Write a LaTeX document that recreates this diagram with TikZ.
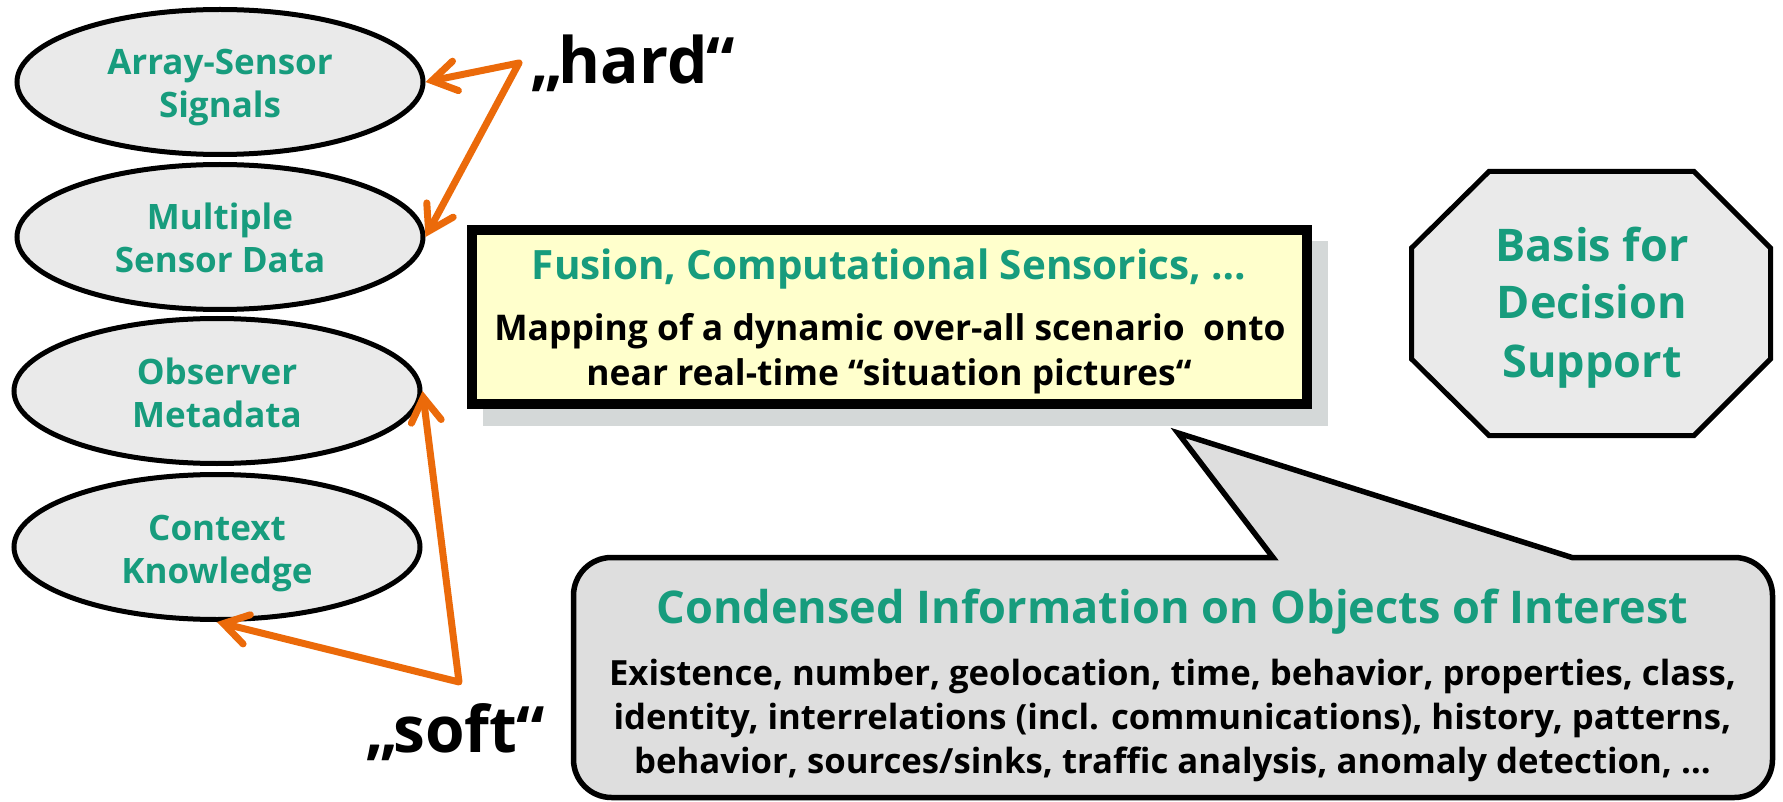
\documentclass[tikz,border=0pt]{standalone}
\usepackage{fontspec}
\setmainfont{Open Sans}
\usetikzlibrary{shapes.geometric,arrows.meta,shadows}
\definecolor{fgreen}{RGB}{23,156,125}
\definecolor{forange}{RGB}{235,106,10}
\definecolor{ellfill}{RGB}{234,234,234}
\definecolor{boxyellow}{RGB}{255,255,204}
\definecolor{shadowgray}{RGB}{212,216,216}
\definecolor{callfill}{RGB}{222,222,222}
\begin{document}
\begin{tikzpicture}[x=0.5pt,y=-0.5pt,
  src/.style={ellipse, draw=black, line width=2.5pt, fill=ellfill,
    minimum width=203pt, minimum height=72.5pt, inner sep=0pt, align=center,
    text=fgreen, font=\bfseries\fontsize{17.5}{21.5}\selectfont,
    text height=36pt, text depth=0pt},
  arr/.style={draw=forange, line width=3.5pt, line cap=round, line join=round,
    {Straight Barb[length=12pt,width=15pt,line cap=round]}-{Straight Barb[length=12pt,width=15pt,line cap=round]}},
  big/.style={anchor=base, inner sep=0pt, font=\bfseries\fontsize{32}{32}\selectfont},
  txt/.style={anchor=base, inner sep=0pt},
  fusbox/.style={draw=black, line width=5pt, fill=boxyellow,
    minimum width=417.5pt, minimum height=87pt, inner sep=0pt,
    drop shadow={shadow xshift=8pt, shadow yshift=-8.25pt, fill=shadowgray,
      draw=shadowgray, line width=5pt, opacity=1}},
  octline/.style={draw=black, line width=2.5pt, fill=ellfill, line join=miter},
  octtxt/.style={align=center, inner sep=0pt, text=fgreen,
    font=\bfseries\fontsize{22.5}{29}\selectfont, text height=73.5pt, text depth=0pt},
  callout/.style={draw=black, line width=2.75pt, fill=callfill, line join=miter}
]
\useasboundingbox (0,0) rectangle (1783,802);

% source ellipses
\node[src] (e1) at (220,82)  {Array-Sensor\\Signals};
\node[src] (e2) at (220,237) {Multiple\\Sensor Data};
\node[src] (e3) at (217,391) {Observer\\Metadata};
\node[src] (e4) at (217,547) {Context\\Knowledge};

% labels
\node[big] (hard) at (633,84) {„\kern-2.5pt hard\kern-0.5pt“};
\node[big] (soft) at (455,752) {„\kern-2.5pt soft\kern-0.5pt“};
\coordinate (ha) at (519,63);
\coordinate (sa) at (459,682);

\draw[arr] (e1.east) -- (ha) -- (e2.east);
\draw[arr] (e3.east) -- (sa) -- (e4.south);

% fusion box
\node[fusbox] (fus) at (889.5,317) {};
\node[txt, text=fgreen, font=\bfseries\fontsize{20.2}{20.2}\selectfont] (fust) at (889,280)
  {Fusion, Computational Sensorics, …};
\node[txt, font=\bfseries\fontsize{17.7}{22}\selectfont] (fusa) at (890,341)
  {Mapping of a dynamic over-all scenario\ \ onto};
\node[txt, font=\bfseries\fontsize{17.7}{22}\selectfont] (fusb) at (889,385)
  {near real-time “situation pictures“};

% decision support octagon
\draw[octline] (1489,171.5) -- (1694,171.5) -- (1770.5,248) -- (1770.5,359)
  -- (1694,435.5) -- (1489,435.5) -- (1411.5,359) -- (1411.5,248) -- cycle;
\node[octtxt] (basis) at (1592,303.5) {Basis for\\Decision\\Support};

% callout
\draw[callout] (1273,557.5) -- (1178,433) -- (1572,557.5) -- (1700,557.5)
  [rounded corners=19pt] -- (1772.5,557.5) -- (1772.5,797.5) -- (573.5,797.5)
  -- (573.5,557.5) -- (1200,557.5) [sharp corners] -- cycle;
\node[txt, text=fgreen, font=\bfseries\fontsize{22.55}{22.55}\selectfont] (condt) at (1172.5,623)
  {Condensed Information on Objects of Interest};
\node[txt, font=\bfseries\fontsize{17.35}{22}\selectfont] (cond1) at (1172.5,685)
  {Existence, number, geolocation, time, behavior, properties, class,};
\node[txt, font=\bfseries\fontsize{17.35}{22}\selectfont] (cond2) at (1172.5,729)
  {identity, interrelations (incl. communications), history, patterns,};
\node[txt, font=\bfseries\fontsize{17.35}{22}\selectfont] (cond3) at (1172.5,773)
  {behavior, sources/sinks, traffic analysis, anomaly detection, …};
\end{tikzpicture}
\end{document}
